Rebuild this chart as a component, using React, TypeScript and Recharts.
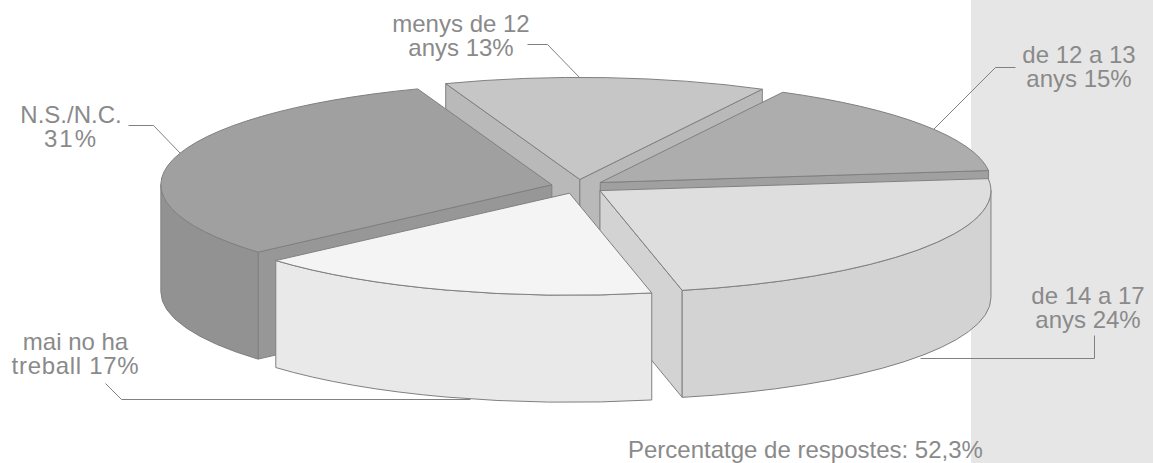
import React from 'react';
import { PieChart, Pie } from 'recharts';

const names = ['N.S./N.C.', 'menys de 12 anys', 'de 12 a 13 anys', 'de 14 a 17 anys', 'mai no ha treball'];
const shares = [30.9, 13.3, 15.4, 23.5, 16.9];
const labelLines = [
  ['N.S./N.C.', '31%'],
  ['menys de 12', 'anys 13%'],
  ['de 12 a 13', 'anys 15%'],
  ['de 14 a 17', 'anys 24%'],
  ['mai no ha', 'treball 17%'],
];
const footnote = 'Percentatge de respostes: 52,3%';

const pieData = names.map((name, i) => ({ name, value: shares[i] }));

const topColors = ['#a0a0a0', '#c6c6c6', '#adadad', '#dedede', '#f4f4f4'];
const wallColors = ['#929292', '#b9b9b9', '#a0a0a0', '#d3d3d3', '#e9e9e9'];
const radialColors = ['#979797', '#b9b9b9', '#a0a0a0', '#d3d3d3', '#e9e9e9'];
const LINE = '#808080';
const TEXT = '#8a8a8a';

const CX = 578;
const CY = 186.5;
const RX = 391;
const SQUASH = 0.261;
const DEPTH = 107;
const EXPLODE = 27;

// label text position (middle x, first baseline), leader line, tracking per text line
const labelLayout = [
  { x: 71, y: 123, line: '128,125 153,125 180,153', track: [0, 2] },
  { x: 461, y: 32, line: '527,44 547,44 581,79', track: [0, 0] },
  { x: 1079, y: 63, line: '1015,67 995,67 933,129', track: [0, 0] },
  { x: 1088, y: 304, line: '1094,335 1094,358 920,358', track: [0, 0] },
  { x: 75.5, y: 350, line: '105,383 121,399 470,399', track: [0, 0.7] },
];

const rad = (d: number) => (d * Math.PI) / 180;

// draws one slice of the tilted pie from the angles recharts worked out
const sliceShape = (layer: number[]) => (props: any) => {
  const { cx, cy, outerRadius: r, startAngle, endAngle, midAngle, index } = props;
  if (!layer.includes(index)) return <g />;
  const ry = r * SQUASH;
  const ox = cx + EXPLODE * Math.cos(rad(midAngle));
  const oy = cy - EXPLODE * SQUASH * Math.sin(rad(midAngle));
  const pt = (a: number, drop = 0) => [ox + r * Math.cos(rad(a)), oy - ry * Math.sin(rad(a)) + drop];
  const p = (q: number[]) => `${q[0].toFixed(2)} ${q[1].toFixed(2)}`;

  const radial = (a: number, key: string) => (
    <path
      key={key}
      d={`M${p([ox, oy])}L${p(pt(a))}L${p(pt(a, DEPTH))}L${p([ox, oy + DEPTH])}Z`}
      fill={radialColors[index]}
      stroke={LINE}
      strokeLinejoin="round"
    />
  );

  // angles clockwise from 12 o'clock, to tell which walls face us
  const cwStart = ((90 - startAngle) % 360 + 360) % 360;
  const cwEnd = cwStart + (startAngle - endAngle);
  const walls = [];
  if (Math.sin(rad(cwStart)) < 0) walls.push(radial(startAngle, 'start'));
  if (Math.sin(rad(cwEnd)) > 0) walls.push(radial(endAngle, 'end'));

  const from = Math.max(cwStart, 90);
  const to = Math.min(cwEnd, 270);
  let outer = null;
  if (to > from) {
    const a0 = 90 - from;
    const a1 = 90 - to;
    outer = (
      <path
        d={`M${p(pt(a0))}A${r} ${ry} 0 0 1 ${p(pt(a1))}L${p(pt(a1, DEPTH))}A${r} ${ry} 0 0 0 ${p(pt(a0, DEPTH))}Z`}
        fill={wallColors[index]}
        stroke={LINE}
        strokeLinejoin="round"
      />
    );
  }

  return (
    <g>
      {walls}
      {outer}
      <path
        d={`M${p([ox, oy])}L${p(pt(startAngle))}A${r} ${ry} 0 0 1 ${p(pt(endAngle))}Z`}
        fill={topColors[index]}
        stroke={LINE}
        strokeLinejoin="round"
      />
    </g>
  );
};

const backSlices = sliceShape([1, 2, 3]);
const frontSlices = sliceShape([0, 4]);

const textStyle = { fontFamily: '"Liberation Sans", Arial, sans-serif', fontSize: 24, fill: TEXT };

const App = () => {
  return (
    <div style={{ position: 'fixed', left: 0, top: 0, width: 1153, height: 463, background: '#fff', overflow: 'hidden' }}>
      <div style={{ position: 'absolute', left: 971, top: 0, width: 182, height: 463, background: '#e6e6e6' }} />
      <div style={{ position: 'absolute', left: 0, top: 0 }}>
        <PieChart width={1153} height={463} margin={{ top: 0, right: 0, bottom: 0, left: 0 }}>
          {[backSlices, frontSlices].map((shape, i) => (
            <Pie
              key={i}
              data={pieData}
              dataKey="value"
              nameKey="name"
              cx={CX}
              cy={CY}
              innerRadius={0}
              outerRadius={RX}
              startAngle={-138.7}
              endAngle={-498.7}
              stroke="none"
              shape={shape}
              isAnimationActive={false}
            />
          ))}
          {labelLayout.map((l, i) => (
            <g key={i}>
              <polyline points={l.line} fill="none" stroke={LINE} strokeWidth={1} transform="translate(0.5 0.5)" />
              {labelLines[i].map((t, j) => (
                <text
                  key={j}
                  x={l.x}
                  y={l.y + j * 24}
                  textAnchor="middle"
                  style={{ ...textStyle, letterSpacing: l.track[j] }}
                >
                  {t}
                </text>
              ))}
            </g>
          ))}
          <text x={628} y={458} style={textStyle}>
            {footnote}
          </text>
        </PieChart>
      </div>
    </div>
  );
};

export default App;
